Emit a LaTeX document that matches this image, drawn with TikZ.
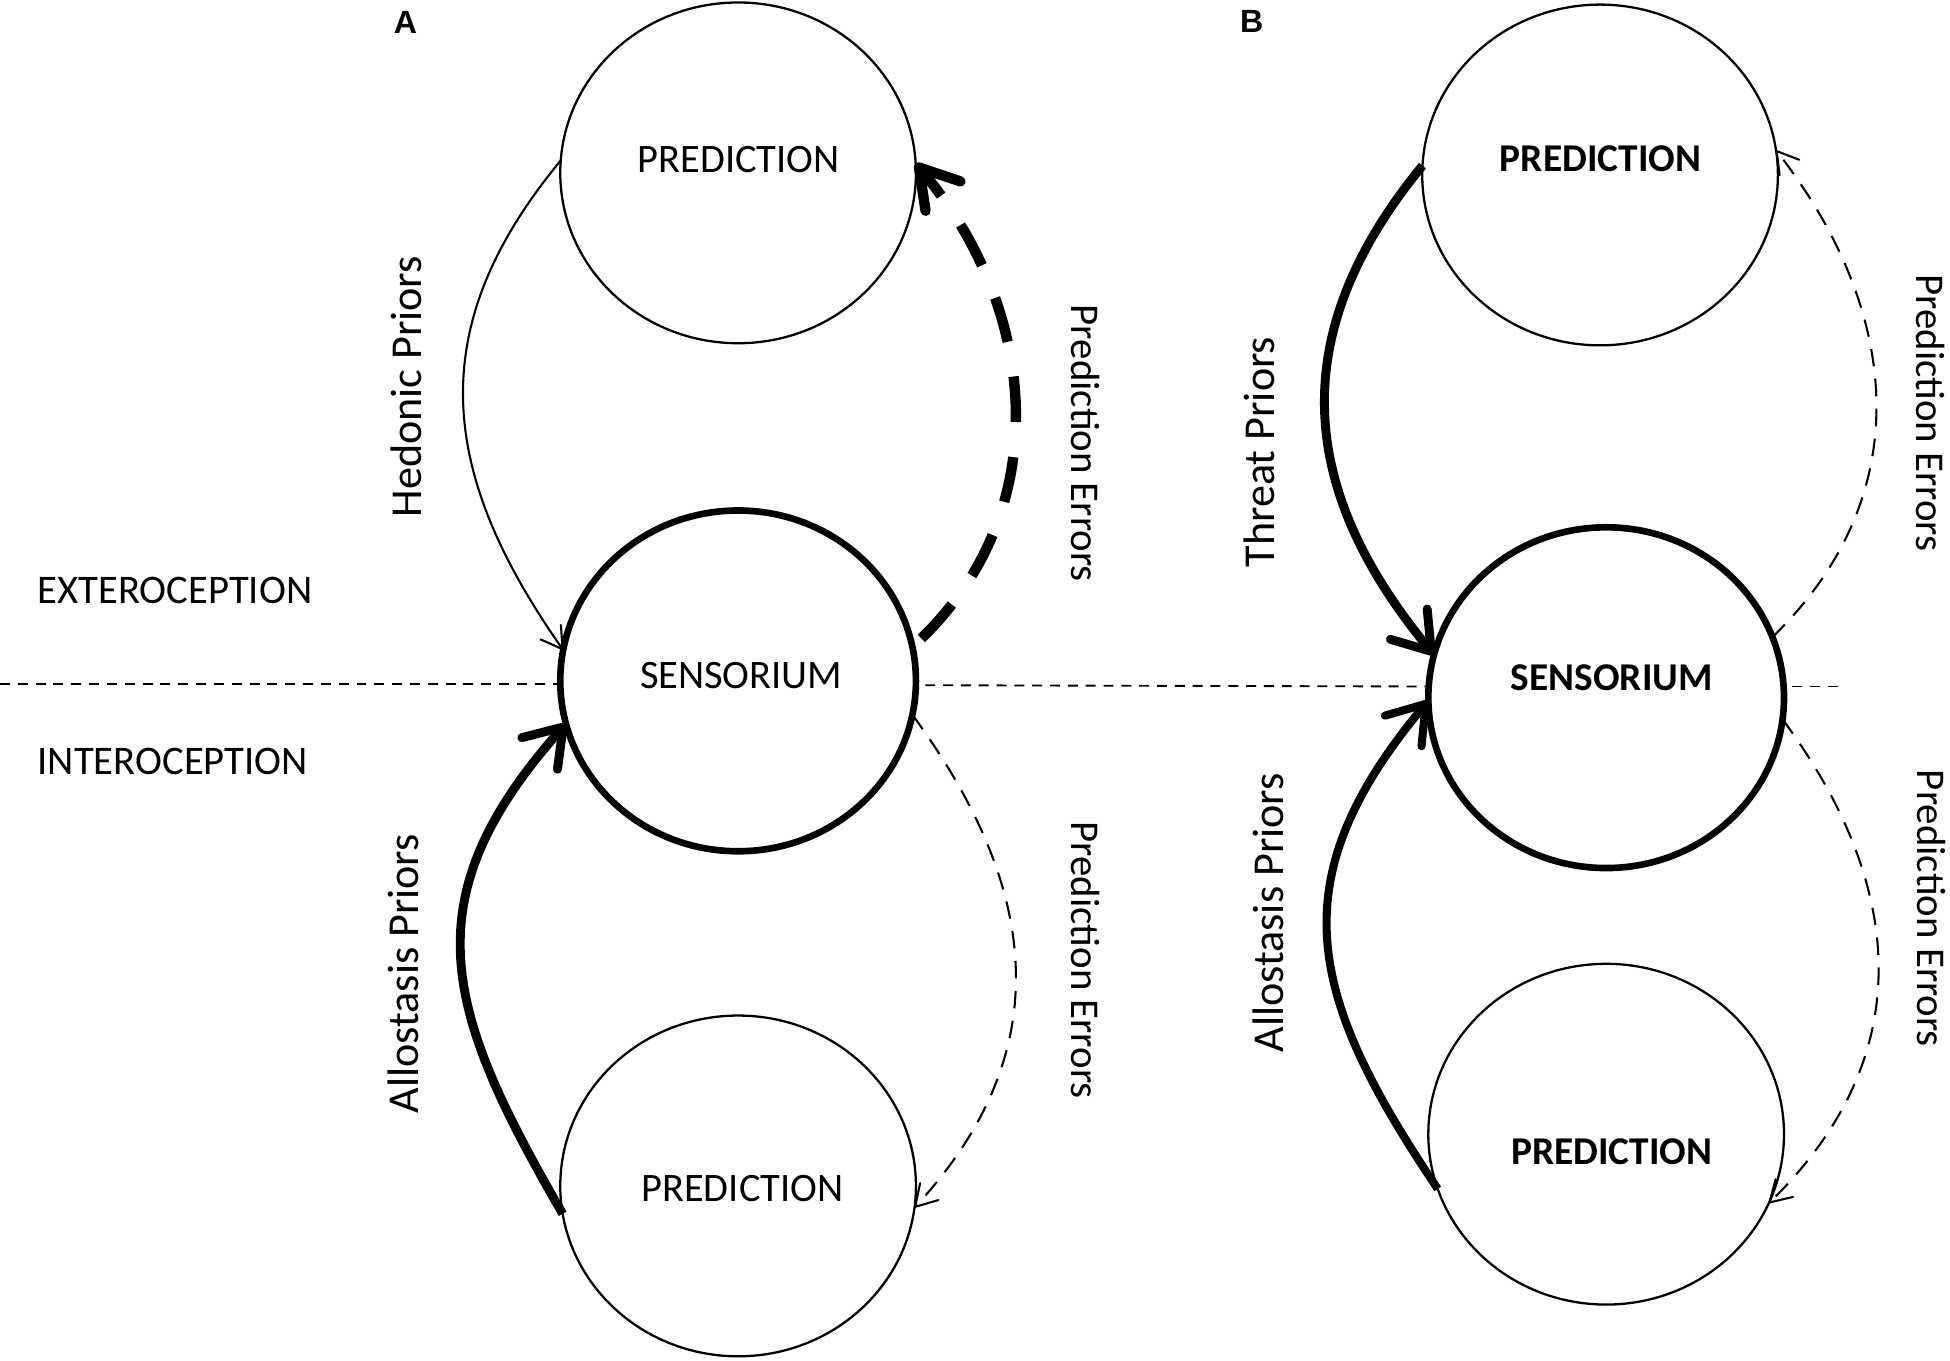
\documentclass[tikz,border=0pt]{standalone}
\usepackage{fontspec}
\setmainfont{Carlito}
\newfontfamily\arialf{Liberation Sans}
\usetikzlibrary{arrows.meta,shapes.geometric}
\begin{document}
\begin{tikzpicture}[x=0.6pt,y=-0.6pt,
  circ/.style={ellipse, draw, line width=1.1pt, minimum width=171.6pt, minimum height=164.4pt, inner sep=0pt, outer sep=0pt},
  sens/.style={circ, line width=3.2pt},
  txt/.style={inner sep=0pt, font=\fontsize{19.5}{22}\selectfont},
  btxt/.style={inner sep=0pt, font=\fontsize{19}{22}\selectfont\bfseries},
  plab/.style={inner sep=0pt, rotate=90, font=\fontsize{21.3}{24}\selectfont},
  pelab/.style={inner sep=0pt, rotate=-90, font=\fontsize{19.7}{23}\selectfont},
  side/.style={inner sep=0pt, anchor=west, font=\fontsize{19.6}{23}\selectfont},
  panel/.style={inner sep=0pt, font=\arialf\fontsize{15.5}{17}\selectfont\bfseries},
  thinarr/.style={line width=1pt, -{Straight Barb[length=10pt,width=12pt,round]}},
  thickarr/.style={line width=4.3pt, -{Straight Barb[length=17pt,width=23pt,round]}},
  thindash/.style={line width=1pt, dash pattern=on 8.5pt off 6pt, -{Straight Barb[length=10pt,width=12pt,round]}},
  thickdash/.style={line width=5pt, dash pattern=on 22pt off 17pt, -{Straight Barb[length=18pt,width=22pt,round]}},
  sep/.style={line width=0.9pt, dash pattern=on 4.8pt off 3.8pt}
]
\useasboundingbox (0,0) rectangle (1568,1094);

% panel labels
\node[panel] (labA) at (326,18) {A};
\node[panel] (labB) at (1006.5,17.5) {B};

% panel A nodes
\node[circ] (pa1) at (593.5,139) {};
\node[txt]  (pa1t) at (594,128) {PREDICTION};
\node[sens] (sa) at (593.5,547.5) {};
\node[txt]  (sat) at (596,543.5) {SENSORIUM};
\node[circ] (pa2) at (593.5,953.6) {};
\node[txt]  (pa2t) at (597,956) {PREDICTION};

% panel B nodes
\node[circ] (pb1) at (1286.6,140.7) {};
\node[btxt] (pb1t) at (1287,128) {PREDICTION};
\node[sens] (sb) at (1291.5,561) {};
\node[btxt] (sbt) at (1296,545) {SENSORIUM};
\node[circ] (pb2) at (1291.5,912) {};
\node[btxt] (pb2t) at (1296,926) {PREDICTION};

% side labels
\node[side] (ext) at (30,475) {EXTEROCEPTION};
\node[side] (int) at (30,612) {INTEROCEPTION};

% separator
\coordinate (s0) at (0,550);
\coordinate (s1) at (744,551);
\coordinate (s2) at (1146,552);
\coordinate (s3) at (1441,552);
\coordinate (s4) at (1482,552);
\draw[sep] (s0) -- (sa.west |- s0);
\draw[sep] (s1) -- (s2);
\draw[sep] (s3) -- (s4);

% panel A connectors
\draw[thinarr] (pa1.176) .. controls (340,263) and (352,379) .. (sa.170);
\draw[thickdash, shorten <=6pt] (sa.11) .. controls (849,409) and (835,249) .. (pa1.3);
\draw[thickarr] (pa2.189.5) .. controls (358,813) and (329,724) .. (sa.194.5);
\draw[thindash] (sa.-11.4) .. controls (836,714) and (852,845) .. (pa2.-7);

% panel B connectors
\draw[thickarr] (pb1.177) .. controls (1033,268) and (1043,393) .. (sb.166.7);
\draw[thindash] (sb.20) .. controls (1544,397) and (1528,249) .. (pb1.8.5);
\draw[thickarr, line width=3.9pt] (pb2.198) .. controls (1051,800) and (1028,708) .. (sb.181.6);
\draw[thindash] (sb.-7.8) .. controls (1533,713) and (1543,850) .. (pb2.-23);

% connector labels
\node[plab] (hed) at (326.5,311) {Hedonic Priors};
\node[pelab] (pea1) at (873,356.5) {Prediction Errors};
\node[plab] (alla) at (324.5,783) {Allostasis Priors};
\node[pelab] (pea2) at (873,772) {Prediction Errors};
\node[plab] (thr) at (1013,363.5) {Threat Priors};
\node[pelab] (peb1) at (1552,332) {Prediction Errors};
\node[plab] (allb) at (1020,734) {Allostasis Priors};
\node[pelab] (peb2) at (1553,730.5) {Prediction Errors};
\end{tikzpicture}
\end{document}
